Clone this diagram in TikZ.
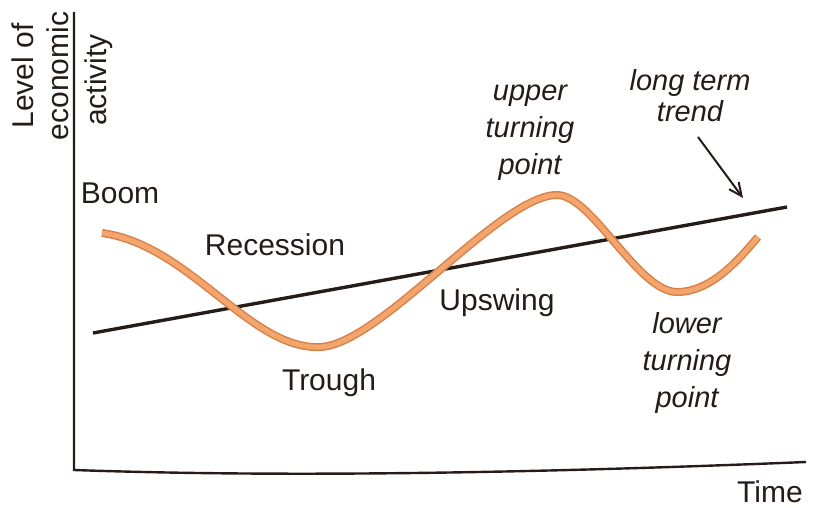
\documentclass[tikz,border=0pt]{standalone}
\usepackage{fontspec}
\setmainfont{Liberation Sans}
\usetikzlibrary{arrows.meta}
\definecolor{ink}{HTML}{241C18}
\definecolor{orangeedge}{HTML}{D98048}
\definecolor{orangefill}{HTML}{F2A56C}
\begin{document}
\begin{tikzpicture}[x=1pt,y=-1pt,
  lbl/.style={font=\fontsize{30}{37}\selectfont, text=ink, inner sep=0pt},
  ilbl/.style={font=\fontsize{29}{37}\selectfont\itshape, text=ink, inner sep=0pt, align=center},
  axisline/.style={draw=ink, line width=2.4pt},
  trendline/.style={draw=ink, line width=3.4pt},
  cycleouter/.style={draw=orangeedge, line width=8pt, line cap=butt},
  cycleinner/.style={draw=orangefill, line width=5pt, line cap=butt}]
\useasboundingbox (0,0) rectangle (816,508);
% axes
\coordinate (origin) at (74,470);
\coordinate (ytop) at (74,12);
\coordinate (xend) at (806,462);
\draw[axisline] (ytop) -- (origin) .. controls (300,478) and (560,472) .. (xend);
% trend line
\coordinate (tstart) at (93,333);
\coordinate (tend) at (787,207);
\draw[trendline] (tstart) -- (tend);
% business cycle curve
\def\cyclepath{(102,233) .. controls (190,245) and (250,350) .. (320,347)
  .. controls (380,345) and (500,195) .. (557,195)
  .. controls (592,195) and (638,292) .. (677,292)
  .. controls (712,292) and (740,258) .. (758,237)}
\draw[cycleouter] \cyclepath;
\draw[cycleinner] \cyclepath;
% labels
\node[lbl, rotate=90] (lvl) at (23,76) {Level of};
\node[lbl, rotate=90] (eco) at (58,76) {economic};
\node[lbl, rotate=90] (act) at (99,80) {activity};
\node[lbl] (time) at (770,492) {Time};
\node[lbl] (boom) at (120,193) {Boom};
\node[lbl] (rec) at (275,245) {Recession};
\node[lbl] (trough) at (329,383) {Trough};
\node[lbl] (up) at (497,303) {Upswing};
\node[ilbl] (utp) at (530,133) {upper\\turning\\point};
\node[ilbl] (ltp) at (687,363) {lower\\turning\\point};
\node[ilbl, font=\fontsize{29}{31}\selectfont\itshape] (ltt) at (690,96) {long term\\trend};
\coordinate (arrowtip) at (743,198);
\draw[ink, line width=2pt, -{Straight Barb[length=13pt,width=12pt,line width=2pt]}] (698,137) -- (arrowtip);
\end{tikzpicture}
\end{document}
